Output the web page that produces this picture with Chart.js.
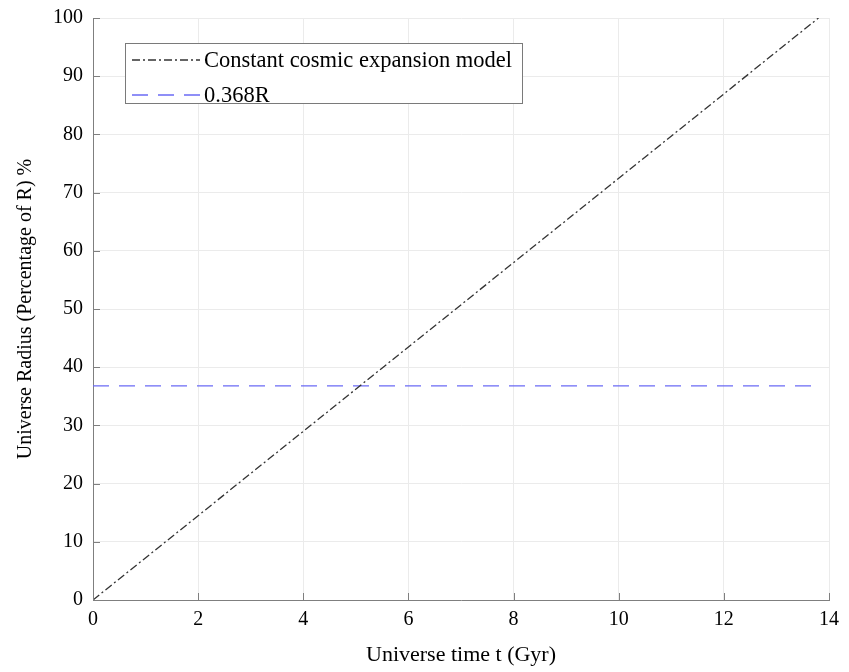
<!DOCTYPE html>
<html>
<head>
<meta charset="utf-8">
<script src="https://cdn.jsdelivr.net/npm/chart.js@4"></script>
<style>
  html, body { margin: 0; padding: 0; background: #fff; }
  #wrap { width: 849px; height: 672px; }
</style>
</head>
<body>
<div id="wrap"><canvas id="mycanvas" width="849" height="672"></canvas></div>
<script>
// data
var modelTime = [0, 13.8];
var modelRadius = [0, 100];
var refTime = [0, 13.8];
var refRadius = [36.8, 36.8];
var xTicks = [0, 2, 4, 6, 8, 10, 12, 14];
var yTicks = [0, 10, 20, 30, 40, 50, 60, 70, 80, 90, 100];

var toPoints = function(xs, ys) {
  var out = [];
  for (var i = 0; i < xs.length; i++) out.push({x: xs[i], y: ys[i]});
  return out;
};

var FONT = "'Liberation Serif', 'Times New Roman', serif";

// small ticks pointing into the plot, plus the boxed legend
var extras = {
  id: 'extras',
  afterDraw: function(chart) {
    var ctx = chart.ctx, a = chart.chartArea;
    var xs = chart.scales.x, ys = chart.scales.y;
    ctx.save();
    ctx.strokeStyle = '#7f7f7f';
    ctx.lineWidth = 1;
    ctx.beginPath();
    xTicks.forEach(function(v) {
      var px = Math.round(xs.getPixelForValue(v)) + 0.5;
      ctx.moveTo(px, a.bottom); ctx.lineTo(px, a.bottom - 7);
    });
    yTicks.forEach(function(v) {
      var py = Math.round(ys.getPixelForValue(v)) + 0.5;
      ctx.moveTo(a.left, py); ctx.lineTo(a.left + 7, py);
    });
    ctx.stroke();

    // legend
    var bx = 125.5, by = 43.5, bw = 397, bh = 60;
    ctx.fillStyle = '#fff';
    ctx.fillRect(bx, by, bw, bh);
    ctx.strokeStyle = '#7a7a7a';
    ctx.strokeRect(bx, by, bw, bh);
    ctx.font = '22.5px ' + FONT;
    ctx.textBaseline = 'middle';
    chart.data.datasets.forEach(function(ds, i) {
      var ly = 60 + i * 35;
      ctx.strokeStyle = ds.borderColor;
      ctx.lineWidth = ds.borderWidth;
      ctx.setLineDash(ds.borderDash);
      ctx.beginPath();
      ctx.moveTo(132, ly); ctx.lineTo(200, ly);
      ctx.stroke();
      ctx.setLineDash([]);
      ctx.fillStyle = '#000';
      ctx.fillText(ds.label, 204, ly + 1);
    });
    ctx.restore();
  }
};

var ctx = document.getElementById('mycanvas');
var chart = new Chart(ctx, {
  type: 'scatter',
  data: {
    datasets: [
      {
        label: 'Constant cosmic expansion model',
        data: toPoints(modelTime, modelRadius),
        showLine: true,
        borderColor: '#333333',
        borderWidth: 1.3,
        borderDash: [8, 3, 2, 3],
        pointRadius: 0,
        fill: false
      },
      {
        label: '0.368R',
        data: toPoints(refTime, refRadius),
        showLine: true,
        borderColor: '#6b6bf5',
        borderWidth: 1.3,
        borderDash: [16, 10],
        pointRadius: 0,
        fill: false
      }
    ]
  },
  options: {
    responsive: false,
    animation: false,
    layout: { padding: { top: 17, right: 20, left: 0, bottom: 0 } },
    plugins: { legend: { display: false }, tooltip: { enabled: false } },
    scales: {
      x: {
        type: 'linear', min: 0, max: 14,
        afterBuildTicks: function(s) { s.ticks = xTicks.map(function(v) { return {value: v}; }); },
        afterFit: function(s) { s.height = 72; },
        grid: { color: '#ebebeb', drawTicks: false },
        border: { color: '#7f7f7f', width: 1 },
        ticks: { color: '#000', padding: 8, font: { family: FONT, size: 20 }, maxRotation: 0 },
        title: { display: true, text: 'Universe time t (Gyr)', color: '#000', padding: { top: 3 }, font: { family: FONT, size: 22 } }
      },
      y: {
        type: 'linear', min: 0, max: 100,
        afterBuildTicks: function(s) { s.ticks = yTicks.map(function(v) { return {value: v}; }); },
        afterFit: function(s) { s.width = 93; },
        grid: { color: '#ebebeb', drawTicks: false },
        border: { color: '#7f7f7f', width: 1 },
        ticks: { color: '#000', padding: 10, font: { family: FONT, size: 20, lineHeight: 0.8 } },
        title: { display: true, text: 'Universe Radius (Percentage of R) %', color: '#000', padding: { top: 14, bottom: 0 }, font: { family: FONT, size: 20 } }
      }
    }
  },
  plugins: [extras]
});
</script>
</body>
</html>
